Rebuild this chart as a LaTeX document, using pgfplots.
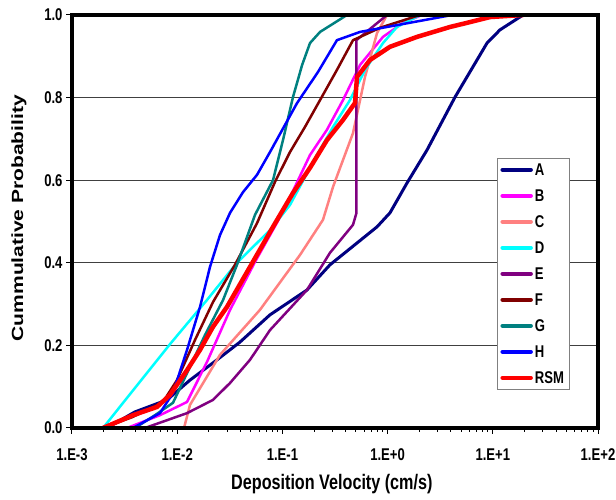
\documentclass[border=0pt]{standalone}
\usepackage{fontspec}
\setmainfont{Liberation Sans}[FakeStretch=0.77]
\newfontfamily\yfont{Liberation Sans}
\usepackage{graphicx}
\usepackage{pgfplots}
\pgfplotsset{compat=1.18}
\definecolor{cA}{RGB}{0,0,128}
\definecolor{cB}{RGB}{255,0,255}
\definecolor{cC}{RGB}{255,128,128}
\definecolor{cD}{RGB}{0,255,255}
\definecolor{cE}{RGB}{128,0,128}
\definecolor{cF}{RGB}{128,0,0}
\definecolor{cG}{RGB}{0,128,128}
\definecolor{cH}{RGB}{0,0,255}
\definecolor{cR}{RGB}{255,0,0}
\begin{document}
\begin{tikzpicture}
\useasboundingbox (-72pt,-72pt) rectangle (544pt,428pt);
\begin{axis}[
  at={(0,0)}, anchor=south west,
  width=526pt, height=413pt, scale only axis,
  xmode=log, xmin=1e-3, xmax=1e2, ymin=0, ymax=1,
  xtick={1e-3,1e-2,1e-1,1,10,100},
  xticklabels={1.E-3,1.E-2,1.E-1,1.E+0,1.E+1,1.E+2},
  minor xtick={2e-3,3e-3,4e-3,5e-3,6e-3,7e-3,8e-3,9e-3,
               2e-2,3e-2,4e-2,5e-2,6e-2,7e-2,8e-2,9e-2,
               0.2,0.3,0.4,0.5,0.6,0.7,0.8,0.9,
               2,3,4,5,6,7,8,9,20,30,40,50,60,70,80,90},
  ytick={0,0.2,0.4,0.6,0.8,1},
  yticklabels={0.0,0.2,0.4,0.6,0.8,1.0},
  tick align=outside, tick pos=left,
  major tick length=6pt, minor tick length=4pt,
  every tick/.style={black, line width=1pt},
  ymajorgrids, grid style={black!75, line width=0.8pt},
  ticklabel style={font=\fontsize{17}{20}\selectfont\bfseries},
  xticklabel style={yshift=-11pt},
  xlabel={Deposition Velocity (cm/s)},
  xlabel style={font=\fontsize{21}{24}\selectfont\bfseries, anchor=center, at={(axis description cs:0.494,-0.136)}},
  ylabel={\scalebox{1}[0.77]{\yfont\fontsize{21}{24}\selectfont\bfseries Cummulative Probability}},
  ylabel style={anchor=center, at={(axis description cs:-0.101,0.508)}},
  legend cell align=left,
  legend style={at={(0.808,0.654)}, anchor=north west, draw=black!50, line width=0.8pt, fill=white,
    font=\fontsize{17}{20}\selectfont\bfseries, row sep=7pt,
    nodes={inner sep=2pt, text height=13pt, text depth=2pt}},
  legend image code/.code={\draw[#1, line width=4.5pt] (0pt,0pt) -- (28pt,0pt);},
  every axis plot/.append style={line join=round, line cap=round},
]
\addplot[cA, line width=3pt] coordinates {(0.00215,0) (0.00397,0.039) (0.0080,0.068) (0.01324,0.116) (0.0239,0.165) (0.0395,0.208) (0.0762,0.274) (0.171,0.334) (0.283,0.395) (0.793,0.487) (1.054,0.521) (1.528,0.593) (2.369,0.673) (4.37,0.801) (8.81,0.932) (11.7,0.964) (19.4,1.0)};
\addlegendentry{A}
\addplot[cB, line width=2.5pt] coordinates {(0.00333,0) (0.00686,0.031) (0.0124,0.063) (0.0192,0.16) (0.0318,0.286) (0.0549,0.402) (0.1013,0.523) (0.183,0.661) (0.265,0.722) (0.377,0.794) (0.547,0.879) (0.904,0.947) (1.401,0.981) (2.123,1.0)};
\addlegendentry{B}
\addplot[cC, line width=2.5pt] coordinates {(0.01161,0) (0.01324,0.056) (0.0255,0.177) (0.0612,0.286) (0.147,0.419) (0.243,0.504) (0.303,0.584) (0.469,0.714) (0.610,0.85) (0.793,0.956) (0.987,1.0)};
\addlegendentry{C}
\addplot[cD, line width=2.5pt] coordinates {(0.00197,0) (0.00854,0.203) (0.0192,0.310) (0.0370,0.400) (0.0762,0.479) (0.118,0.540) (0.213,0.661) (0.303,0.729) (0.439,0.794) (0.610,0.867) (0.904,0.932) (1.228,0.971) (2.032,1.0)};
\addlegendentry{D}
\addplot[cE, line width=2.5pt] coordinates {(0.00494,0) (0.0124,0.036) (0.0219,0.068) (0.0318,0.109) (0.0492,0.165) (0.0762,0.237) (0.171,0.334) (0.283,0.424) (0.469,0.492) (0.505,0.52) (0.505,0.939) (0.987,1.0)};
\addlegendentry{E}
\addplot[cF, line width=2.5pt] coordinates {(0.00197,0) (0.0038,0.027) (0.00733,0.063) (0.00996,0.116) (0.01476,0.213) (0.0219,0.305) (0.0354,0.395) (0.0574,0.496) (0.0851,0.596) (0.118,0.668) (0.164,0.729) (0.228,0.794) (0.330,0.867) (0.469,0.939) (0.847,0.969) (2.032,1.0)};
\addlegendentry{F}
\addplot[cG, line width=2.5pt] coordinates {(0.00397,0) (0.00615,0.031) (0.00912,0.061) (0.01324,0.148) (0.01837,0.225) (0.0273,0.310) (0.0370,0.395) (0.0549,0.516) (0.0814,0.600) (0.1013,0.697) (0.126,0.801) (0.154,0.879) (0.183,0.932) (0.228,0.959) (0.411,1.0)};
\addlegendentry{G}
\addplot[cH, line width=2.5pt] coordinates {(0.0038,0) (0.00686,0.036) (0.00912,0.085) (0.0124,0.189) (0.01647,0.293) (0.0205,0.390) (0.0255,0.467) (0.0318,0.521) (0.0422,0.571) (0.0574,0.613) (0.0762,0.668) (0.138,0.787) (0.218,0.862) (0.330,0.939) (0.547,0.959) (4.10,1.0)};
\addlegendentry{H}
\addplot[cR, line width=4.5pt] coordinates {(0.00197,0) (0.0038,0.031) (0.00643,0.051) (0.00854,0.080) (0.0124,0.140) (0.01647,0.189) (0.0219,0.245) (0.0297,0.293) (0.0492,0.390) (0.0814,0.487) (0.126,0.569) (0.183,0.630) (0.265,0.697) (0.377,0.746) (0.490,0.787) (0.512,0.850) (0.680,0.891) (1.054,0.923) (1.904,0.947) (3.92,0.971) (5.69,0.981) (9.41,0.995) (19.4,1.0)};
\addlegendentry{RSM}
\end{axis}
\draw[line width=3.5pt, line join=miter] (current axis.south west) rectangle (current axis.north east);
\end{tikzpicture}
\end{document}
